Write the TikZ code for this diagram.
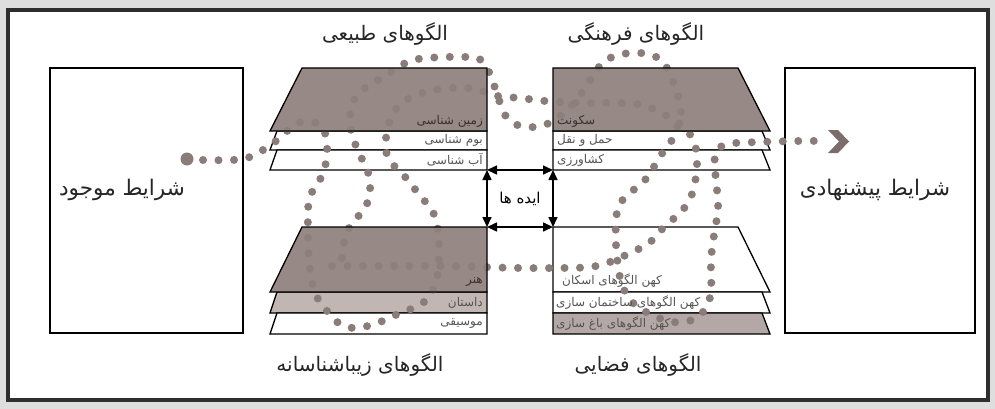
\documentclass[tikz,border=0pt]{standalone}
\usepackage{fontspec}
\newfontfamily\arabicfont[Script=Arabic]{DejaVu Sans}
\TeXXeTstate=1
\usetikzlibrary{arrows.meta}
\definecolor{darkl}{HTML}{8E807C}
\definecolor{lightA}{HTML}{C2B6B3}
\definecolor{lightB}{HTML}{B3A8A5}
\definecolor{dotc}{HTML}{8A7C79}
\definecolor{chev}{HTML}{7A6D6A}
\definecolor{labc}{HTML}{555555}
\definecolor{labd}{HTML}{3A3030}
\definecolor{framec}{HTML}{2E2E2E}
\begin{document}
\begin{tikzpicture}[x=1pt,y=-1pt,
  layer/.style={draw=black, line width=1.3pt, line join=miter},
  dotline/.style={draw=dotc, line width=8pt, line cap=round, dash pattern=on 0pt off 15.5pt},
  dbl/.style={{Triangle[length=10pt,width=9pt]}-{Triangle[length=10pt,width=9pt]}, line width=1.6pt},
  title/.style={font=\arabicfont\fontsize{20}{24}\selectfont, text=black!85},
  boxtext/.style={font=\arabicfont\fontsize{21.5}{26}\selectfont, text=black!85},
  lab/.style={font=\arabicfont\fontsize{12}{14}\selectfont, text=labc, inner sep=0pt},
  labdark/.style={lab, text=labd},
  idea/.style={font=\arabicfont\fontsize{15}{18}\selectfont, text=black}]
\useasboundingbox (0,0) rectangle (995,409);
\fill[black!13] (0,0) rectangle (995,409);
\draw[fill=white, draw=framec, line width=4pt] (8,10) rectangle (988,400);
% side boxes
\draw[line width=1.3pt] (50,68) rectangle (243,333);
\draw[line width=1.3pt] (785,68) rectangle (975,333);
% lower layers (drawn before the dotted path)
\draw[layer, fill=white] (277,131) -- (487,131) -- (487,150) -- (270,150) -- cycle;
\draw[layer, fill=white] (277,150) -- (487,150) -- (487,170) -- (270,170) -- cycle;
\draw[layer, fill=white] (553,131) -- (762,131) -- (770,150) -- (553,150) -- cycle;
\draw[layer, fill=white] (553,150) -- (762,150) -- (770,170) -- (553,170) -- cycle;
\draw[layer, fill=lightA] (277,292) -- (487,292) -- (487,313) -- (270,313) -- cycle;
\draw[layer, fill=white] (277,313) -- (487,313) -- (487,334) -- (270,334) -- cycle;
\draw[layer, fill=white] (553,227) -- (738,227) -- (770,292) -- (553,292) -- cycle;
\draw[layer, fill=white] (553,292) -- (762,292) -- (770,313) -- (553,313) -- cycle;
\draw[layer, fill=lightB] (553,313) -- (762,313) -- (770,334) -- (553,334) -- cycle;
% dotted paths
\draw[dotline] plot[smooth, tension=0.6] coordinates {(203,160) (233,160) (250,157) (263,150) (276,141) (287,131) (298,123) (312,122) (323,128) (327,145) (326,162) (322,176) (314,188) (309,201) (308,215) (308,240) (310,270) (316,295) (327,311) (340,324) (357,328) (380,322) (400,313) (420,305) (432,292) (438,273) (439,250) (438,230) (432,210) (420,196) (408,180) (396,168) (387,155) (386,138) (392,115) (405,101) (425,92) (450,88) (475,89) (497,96) (520,98) (545,101) (580,103) (620,103) (645,106) (665,115) (685,128) (695,145) (697,165) (695,182) (690,199) (680,213) (665,226) (649,243) (630,253) (610,262) (590,267) (560,268) (520,268) (480,267) (440,266) (400,266) (360,266) (320,266)};
\draw[dotline] plot[smooth, tension=0.6] coordinates {(342,258) (346,234) (356,219) (365,208) (370,192) (368,172) (360,155) (353,138) (350,122) (352,105) (360,92) (373,83) (387,75) (400,66) (413,60) (428,58) (445,57) (462,57) (478,58) (488,70) (494,85) (499,100) (505,115) (515,124) (528,127) (541,126) (555,120) (567,110) (578,98) (587,85) (595,72) (605,61) (618,55) (633,53) (648,54) (661,60) (669,72) (676,90) (681,108) (678,125) (672,140) (663,152) (655,165) (645,180) (630,193) (619,205) (616,222) (616,245) (618,265) (622,285) (632,302) (650,314) (672,322) (692,320) (706,308) (711,290) (711,260) (714,235) (718,210) (717,190) (715,168) (716,152) (728,144) (760,142) (800,141) (824,141)};
% dark top layers (translucent over the dots)
\draw[layer, fill=darkl, fill opacity=0.92] (302,68) -- (487,68) -- (487,131) -- (270,131) -- cycle;
\draw[layer, fill=darkl, fill opacity=0.92] (553,68) -- (738,68) -- (770,131) -- (553,131) -- cycle;
\draw[layer, fill=darkl, fill opacity=0.92] (302,227) -- (487,227) -- (487,292) -- (270,292) -- cycle;
% start dot and end chevron
\fill[dotc] (187,159) circle (6.5);
\fill[chev] (828,130) -- (838,130) -- (849,141.5) -- (838,153) -- (828,153) -- (839,141.5) -- cycle;
% layer labels
\node[labdark, anchor=east] (n1) at (483,121) {\beginR زمین شناسی\endR};
\node[lab, anchor=east] (n2) at (483,140.5) {\beginR بوم شناسی\endR};
\node[lab, anchor=east] (n3) at (483,160) {\beginR آب شناسی\endR};
\node[labdark, anchor=west] (c1) at (557,121) {\beginR سکونت\endR};
\node[lab, anchor=west] (c2) at (557,140.5) {\beginR حمل و نقل\endR};
\node[lab, anchor=west] (c3) at (557,160) {\beginR کشاورزی\endR};
\node[labdark, anchor=east] (a1) at (483,282) {\beginR هنر\endR};
\node[lab, anchor=east] (a2) at (483,302.5) {\beginR داستان\endR};
\node[lab, anchor=east] (a3) at (483,323.5) {\beginR موسیقی\endR};
\node[lab, anchor=west] (s1) at (562,281) {\beginR کهن الگوهای اسکان\endR};
\node[lab, anchor=west] (s2) at (556,302.5) {\beginR کهن الگوهای ساختمان سازی\endR};
\node[lab, anchor=west] (s3) at (556,323.5) {\beginR کهن الگوهای باغ سازی\endR};
% ideas box
\coordinate (tl) at (487,170);
\coordinate (tr) at (553,170);
\coordinate (bl) at (487,227);
\coordinate (br) at (553,227);
\draw[dbl] (tl) -- (tr);
\draw[dbl] (bl) -- (br);
\draw[dbl] (tl) -- (bl);
\draw[dbl] (tr) -- (br);
\node[idea] (ideas) at (520,199) {\beginR ایده ها\endR};
% titles
\node[title] (tn) at (385,34) {\beginR الگوهای طبیعی\endR};
\node[title] (tc) at (636,34) {\beginR الگوهای فرهنگی\endR};
\node[title] (ta) at (360,365) {\beginR الگوهای زیباشناسانه\endR};
\node[title] (ts) at (638,365) {\beginR الگوهای فضایی\endR};
\node[boxtext] (left) at (122,190) {\beginR شرایط موجود\endR};
\node[boxtext] (right) at (875,190) {\beginR شرایط پیشنهادی\endR};
\end{tikzpicture}
\end{document}
